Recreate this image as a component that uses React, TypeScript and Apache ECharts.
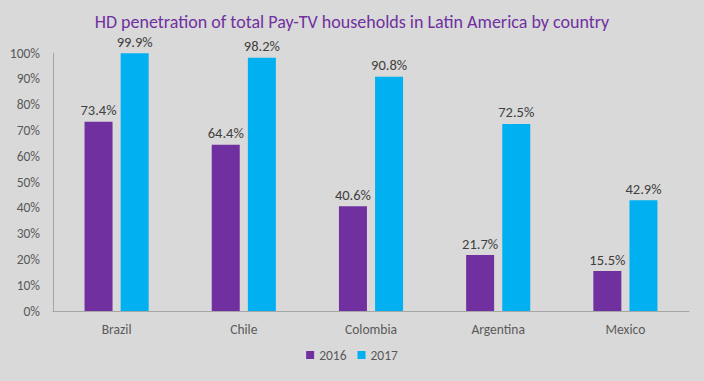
import React, { useEffect, useRef } from "react";
import * as echarts from "echarts";

const categories = ["Brazil", "Chile", "Colombia", "Argentina", "Mexico"];
const values2016 = [73.4, 64.4, 40.6, 21.7, 15.5];
const values2017 = [99.9, 98.2, 90.8, 72.5, 42.9];
const seriesNames = ["2016", "2017"];

const FONT = 'Carlito, Calibri, "Liberation Sans Narrow", "Open Sans", sans-serif';

export default function App() {
  const ref = useRef<HTMLDivElement>(null);
  useEffect(() => {
    document.body.style.margin = "0";
    const chart = echarts.init(ref.current!, null, { renderer: "svg" });
    const label = {
      show: true,
      position: "top",
      distance: 4,
      color: "#404040",
      fontSize: 14.5,
      fontFamily: FONT,
      formatter: (p: any) => p.value.toFixed(1) + "%",
    };
    chart.setOption({
      animation: false,
      backgroundColor: "#d9d9d9",
      textStyle: { fontFamily: FONT },
      title: {
        text: "HD penetration of total Pay-TV households in Latin America by country",
        left: "center",
        top: 13,
        padding: 0,
        textStyle: { color: "#7030a0", fontSize: 18, lineHeight: 18, fontWeight: "normal", fontFamily: FONT },
      },
      legend: {
        data: seriesNames,
        bottom: 14,
        left: "center",
        itemWidth: 8,
        itemHeight: 8,
        itemGap: 11,
        icon: "rect",
        textStyle: { color: "#595959", fontSize: 13.5, fontFamily: FONT },
      },
      grid: { left: 53, right: 15, top: 53, bottom: 70 },
      xAxis: {
        type: "category",
        data: categories,
        axisLine: { lineStyle: { color: "#a6a6a6", width: 1 } },
        axisTick: { show: false },
        axisLabel: { color: "#595959", fontSize: 13.5, margin: 11, fontFamily: FONT },
      },
      yAxis: {
        type: "value",
        min: 0,
        max: 100,
        interval: 10,
        axisLine: { show: true, lineStyle: { color: "#a6a6a6", width: 1 } },
        axisTick: { show: false },
        splitLine: { show: false },
        axisLabel: { color: "#595959", fontSize: 13.5, margin: 13, formatter: "{value}%", fontFamily: FONT },
      },
      series: [
        {
          name: seriesNames[0],
          type: "bar",
          data: values2016,
          barWidth: 28,
          barGap: "29%",
          itemStyle: { color: "#7030a0" },
          label,
        },
        {
          name: seriesNames[1],
          type: "bar",
          data: values2017,
          barWidth: 28,
          itemStyle: { color: "#00b0f0" },
          label,
        },
      ],
    });
    return () => chart.dispose();
  }, []);
  return <div ref={ref} style={{ width: 704, height: 381 }} />;
}
